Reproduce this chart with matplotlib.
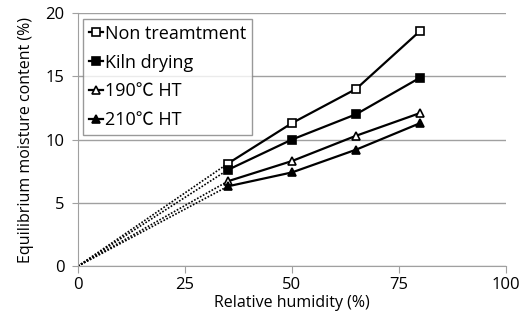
import matplotlib
matplotlib.use("Agg")
import matplotlib.pyplot as plt
from matplotlib.lines import Line2D

plt.rcParams['font.family'] = ['Open Sans', 'Noto Sans CJK KR', 'DejaVu Sans']

rh = [35, 50, 65, 80]
series_names = ["Non treamtment", "Kiln drying", "190\u2103 HT", "210\u2103 HT"]
non_treatment = [8.1, 11.3, 14.0, 18.6]
kiln_drying = [7.6, 10.0, 12.0, 14.9]
ht190 = [6.7, 8.3, 10.3, 12.1]
ht210 = [6.3, 7.4, 9.2, 11.3]
x_ticks = [0, 25, 50, 75, 100]
y_ticks = [0, 5, 10, 15, 20]

markers = ['s', 's', '^', '^']
faces = ['white', 'black', 'white', 'black']
data = [non_treatment, kiln_drying, ht190, ht210]

fig = plt.figure(figsize=(5.28, 3.26), dpi=100)
ax = fig.add_axes([0.148, 0.184, 0.81, 0.776])

handles = []
for name, ys, m, fc in zip(series_names, data, markers, faces):
    ax.plot([0, rh[0]], [0, ys[0]], color='black', lw=1.2, ls=(0, (1, 1)), zorder=2)
    ax.plot(rh, ys, color='black', lw=1.6, marker=m, markerfacecolor=fc,
            markeredgecolor='black', markersize=6, markeredgewidth=1.2, zorder=3)
    handles.append(Line2D([], [], color='black', lw=1.6, marker=m, markerfacecolor=fc,
                          markeredgecolor='black', markersize=6, markeredgewidth=1.2))

ax.set_xlim(0, 100)
ax.set_ylim(0, 20)
ax.set_xticks(x_ticks)
ax.set_yticks(y_ticks)
ax.yaxis.grid(True, color='#a0a0a0', lw=1)
ax.set_axisbelow(True)
for s in ['top', 'right']:
    ax.spines[s].set_visible(False)
for s in ['left', 'bottom']:
    ax.spines[s].set_color('#a0a0a0')
ax.tick_params(axis='x', direction='out', length=5, color='#a0a0a0', labelsize=12, pad=3)
ax.tick_params(axis='y', direction='out', length=4, color='#a0a0a0', labelsize=12, pad=6)
ax.set_xlabel("Relative humidity (%)", fontsize=11.5, labelpad=1)
ax.set_ylabel("Equilibrium moisture content (%)", fontsize=11.5, labelpad=8)

leg = ax.legend(handles, series_names, loc='upper left', bbox_to_anchor=(0.012, 0.975),
                fontsize=13, handlelength=0.8, handletextpad=0.1, borderpad=0.3,
                labelspacing=0.6, frameon=True, fancybox=False, borderaxespad=0)
leg.get_frame().set_edgecolor('#808080')
leg.get_frame().set_linewidth(1)

fig.savefig("out.png", dpi=100)
